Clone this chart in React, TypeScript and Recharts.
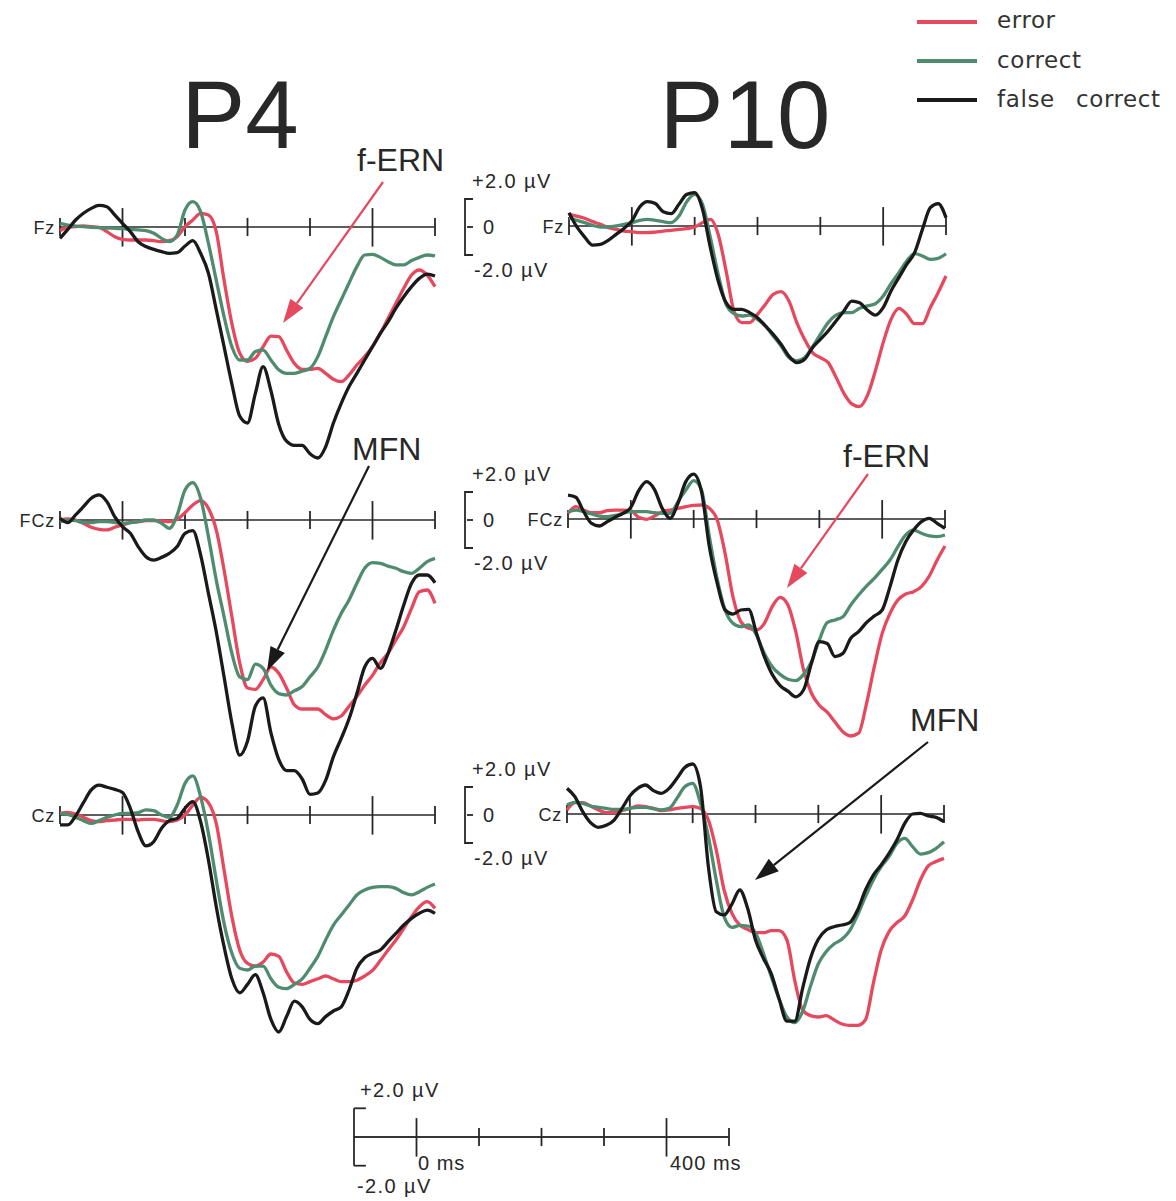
import { LineChart, Line, XAxis, YAxis, ReferenceLine } from "recharts";

// time grid (ms) shared by every waveform
const times = [
  -100, -87.5, -75, -62.5, -50, -37.5, -25, -12.5, 0, 12.5, 25, 37.5, 50, 62.5, 75, 87.5,
  100, 112.5, 125, 137.5, 150, 162.5, 175, 187.5, 200, 212.5, 225, 237.5, 250, 262.5, 275, 287.5,
  300, 312.5, 325, 337.5, 350, 362.5, 375, 387.5, 400, 412.5, 425, 437.5, 450, 462.5, 475, 487.5, 500,
];

// amplitudes in µV
const p4FzError = [-0.26, -0.02, 0.02, 0.07, 0.02, -0.02, -0.33, -0.69, -0.88, -0.93, -0.93, -0.93, -0.98, -1.05, -0.98, -0.69, 0.02, 0.5, 0.98, 0.86, -0.33, -3.8, -6.9, -9.0, -9.6, -9.38, -8.55, -7.79, -7.83, -8.79, -9.74, -10.17, -10.17, -10.1, -10.45, -10.88, -11.05, -10.57, -9.86, -9.26, -8.55, -7.6, -6.52, -5.45, -4.38, -3.43, -3.07, -3.43, -4.26];
const p4FzCorrect = [0.26, 0.14, 0.07, 0.02, -0.02, -0.05, -0.07, -0.1, -0.12, -0.17, -0.21, -0.26, -0.45, -0.81, -1.05, -0.57, 1.21, 1.81, 1.1, -1.17, -3.79, -6.4, -8.55, -9.5, -9.5, -8.9, -8.8, -9.5, -10.2, -10.45, -10.45, -10.3, -10.1, -9.26, -7.83, -6.4, -5.2, -4.0, -2.83, -2.0, -1.95, -2.17, -2.48, -2.71, -2.71, -2.4, -2.17, -2.0, -2.07];
const p4FzFalse = [-0.81, -0.17, 0.5, 0.98, 1.33, 1.55, 1.45, 0.86, 0.26, -0.33, -1.05, -1.4, -1.6, -1.76, -1.88, -1.83, -1.36, -0.98, -1.88, -3.3, -5.9, -8.55, -11.2, -13.5, -14.0, -11.9, -9.98, -11.7, -14.1, -15.3, -15.6, -15.6, -16.2, -16.5, -15.7, -14.0, -12.6, -11.4, -10.45, -9.5, -8.55, -7.6, -6.76, -5.8, -4.98, -4.26, -3.67, -3.36, -3.5];

const p4FczError = [0, 0.07, 0, -0.24, -0.52, -0.67, -0.71, -0.52, -0.36, -0.19, -0.12, -0.05, -0.05, -0.07, -0.12, 0.05, 0.52, 1.07, 1.38, 0.83, -0.71, -3.57, -6.9, -10.2, -12.0, -12.1, -11.4, -10.5, -10.95, -12.0, -13.2, -13.5, -13.5, -13.5, -13.9, -14.2, -14.0, -13.3, -12.6, -11.8, -11.1, -10.2, -9.52, -8.57, -7.62, -6.31, -5.12, -5.0, -5.95];
const p4FczCorrect = [-0.12, 0, -0.05, -0.19, -0.19, -0.12, -0.12, -0.19, -0.24, -0.19, -0.12, 0, 0, -0.24, -0.6, 0.36, 2.14, 2.67, 1.55, -1.19, -4.29, -6.9, -9.52, -11.2, -11.4, -10.3, -10.6, -11.8, -12.4, -12.5, -12.2, -11.9, -11.2, -10.5, -9.29, -7.86, -6.67, -5.71, -4.52, -3.45, -3.05, -3.1, -3.29, -3.45, -3.69, -3.81, -3.45, -2.98, -2.74];
const p4FczFalse = [0.12, -0.19, 0.36, 0.95, 1.55, 1.79, 1.31, 0.24, -0.48, -0.95, -1.9, -2.62, -2.86, -2.67, -2.38, -1.9, -0.95, -0.76, -2.5, -5.24, -7.98, -11.2, -14.5, -16.8, -15.8, -13.3, -12.7, -15.2, -17.1, -17.9, -17.9, -18.5, -19.6, -19.5, -18.6, -16.9, -15.6, -14.2, -12.4, -10.5, -9.88, -10.6, -9.52, -7.86, -6.07, -4.52, -3.93, -3.93, -4.48];

const p4CzError = [0.12, 0.19, 0.07, -0.17, -0.4, -0.48, -0.4, -0.36, -0.31, -0.31, -0.36, -0.31, -0.31, -0.4, -0.48, -0.36, 0, 0.71, 1.26, 0.88, -0.6, -3.93, -7.26, -9.64, -10.6, -10.8, -10.5, -9.93, -10.1, -11.2, -12.0, -12.1, -11.9, -11.7, -11.5, -11.7, -11.9, -11.9, -11.8, -11.5, -11.1, -10.4, -9.64, -8.93, -8.1, -7.26, -6.55, -6.19, -6.67];
const p4CzCorrect = [0.12, 0.05, -0.17, -0.4, -0.6, -0.4, -0.17, 0, 0.12, 0.12, 0.17, 0.36, 0.31, 0, -0.17, 0.71, 2.26, 2.79, 1.31, -1.31, -4.64, -7.74, -9.88, -10.95, -11.07, -10.8, -10.8, -11.7, -12.3, -12.4, -12.1, -11.7, -10.95, -10.1, -8.93, -7.86, -7.14, -6.43, -5.71, -5.36, -5.17, -5.12, -5.12, -5.24, -5.55, -5.71, -5.48, -5.17, -4.93];
const p4CzFalse = [-0.71, -0.71, -0.07, 0.88, 1.79, 2.14, 1.98, 1.83, 1.6, 0.48, -1.19, -2.21, -1.9, -0.95, -0.4, -0.24, 0.48, 0.95, -0.48, -3.21, -6.55, -9.4, -11.7, -12.7, -12.1, -11.4, -12.7, -14.6, -15.5, -14.4, -13.3, -13.7, -14.6, -14.9, -14.4, -14.0, -13.7, -12.5, -10.95, -10.2, -9.88, -9.64, -9.05, -8.45, -7.86, -7.38, -7.02, -6.79, -7.02];

const p10FzError = [0.83, 0.71, 0.55, 0.31, 0.12, -0.12, -0.24, -0.36, -0.4, -0.48, -0.48, -0.43, -0.36, -0.31, -0.24, -0.19, -0.07, 0.24, 0.48, -0.6, -3.21, -6.07, -6.9, -6.9, -6.31, -5.6, -4.88, -4.69, -5.36, -6.9, -8.1, -9.05, -9.4, -9.76, -10.8, -11.95, -12.7, -12.9, -12.1, -10.36, -8.33, -6.67, -5.88, -6.31, -6.98, -6.98, -5.83, -4.76, -3.57];
const p10FzCorrect = [0.6, 0.4, 0.24, 0.05, -0.07, -0.07, 0, 0.12, 0.24, 0.4, 0.48, 0.4, 0.31, 0.24, 0.71, 1.74, 2.26, 1.55, -0.83, -3.45, -5.6, -6.26, -6.43, -6.36, -6.67, -7.14, -7.86, -8.57, -9.4, -9.64, -9.4, -8.64, -7.74, -6.9, -6.36, -6.19, -6.19, -5.88, -5.71, -5.55, -5.0, -4.12, -3.33, -2.5, -1.98, -2.14, -2.38, -2.31, -1.98];
const p10FzFalse = [0.95, -0.07, -0.79, -1.36, -1.31, -1.02, -0.6, -0.17, 0.36, 1.36, 1.74, 1.6, 1.02, 0.88, 1.55, 2.26, 2.38, 1.19, -1.55, -3.93, -5.48, -5.95, -5.95, -6.19, -6.55, -7.14, -7.74, -8.45, -9.29, -9.76, -9.52, -8.69, -8.1, -7.5, -6.79, -6.07, -5.36, -5.48, -6.02, -6.36, -5.83, -4.64, -3.69, -2.74, -1.9, -0.24, 1.31, 1.6, 0.6];

const p10FczError = [0.4, 0.88, 0.64, 0.45, 0.45, 0.6, 0.64, 0.64, 0.6, 0.12, -0.02, 0.21, 0.52, 0.64, 0.76, 0.88, 0.98, 1.0, 0.76, -0.07, -2.45, -5.55, -7.33, -7.81, -7.93, -7.45, -6.26, -5.6, -6.14, -8.05, -10.8, -12.45, -13.3, -13.8, -14.5, -15.2, -15.5, -15.3, -13.2, -10.55, -8.17, -6.74, -5.79, -5.36, -5.19, -4.83, -4.07, -2.93, -1.93];
const p10FczCorrect = [0.52, 0.64, 0.52, 0.36, 0.21, 0.17, 0.26, 0.4, 0.52, 0.52, 0.52, 0.45, 0.4, 0.4, 1.24, 2.07, 2.74, 2.07, -1.26, -4.29, -6.5, -7.45, -7.69, -7.57, -8.29, -9.6, -10.55, -11.1, -11.45, -11.55, -11.1, -10.2, -8.64, -7.4, -7.21, -6.98, -6.14, -5.43, -4.79, -4.24, -3.6, -2.93, -1.98, -1.14, -0.79, -1.02, -1.21, -1.26, -1.14];
const p10FczFalse = [1.71, 1.55, 0.52, -0.31, -0.5, -0.19, 0.12, 0.4, 0.83, 2.02, 2.67, 2.12, 0.76, 0.05, 1.12, 2.67, 3.21, 1.95, -1.98, -4.6, -6.5, -6.79, -6.5, -6.45, -8.17, -9.83, -11.1, -11.9, -12.3, -12.7, -12.2, -10.3, -8.76, -8.9, -9.83, -9.6, -8.52, -8.05, -7.4, -6.93, -6.5, -4.83, -2.93, -1.62, -0.79, -0.19, 0.05, -0.31, -0.67];

const p10CzError = [0.29, 0.81, 0.81, 0.57, 0.29, 0.1, 0.1, 0.24, 0.4, 0.57, 0.52, 0.4, 0.24, 0.29, 0.4, 0.48, 0.52, 0.4, -0.43, -2.57, -5.43, -7.1, -7.93, -8.24, -8.48, -8.48, -8.33, -8.33, -9.0, -11.9, -14.0, -14.4, -14.5, -14.4, -14.7, -15.0, -15.1, -15.1, -14.7, -12.1, -9.71, -8.4, -7.76, -7.29, -6.14, -4.71, -3.71, -3.4, -3.17];
const p10CzCorrect = [0.64, 0.83, 0.76, 0.57, 0.48, 0.4, 0.33, 0.33, 0.4, 0.48, 0.48, 0.38, 0.29, 0.4, 1.12, 1.95, 2.19, 0.76, -1.62, -4.71, -7.33, -8.1, -7.95, -8.0, -8.48, -9.95, -11.6, -13.2, -14.5, -14.9, -14.1, -12.3, -10.7, -9.83, -9.29, -8.95, -8.33, -7.21, -5.9, -4.71, -3.76, -3.05, -2.1, -1.74, -2.33, -2.86, -2.76, -2.45, -1.98];
const p10CzFalse = [1.83, 1.24, 0.17, -0.62, -0.95, -0.81, -0.43, 0.4, 1.29, 1.83, 2.07, 1.67, 1.48, 1.83, 2.55, 3.33, 3.57, 1.95, -3.76, -6.98, -7.21, -6.43, -5.43, -6.74, -9.0, -10.3, -11.4, -13.2, -14.8, -14.8, -12.45, -10.3, -8.95, -8.29, -8.05, -7.93, -7.76, -6.86, -5.43, -4.36, -3.64, -2.81, -1.86, -0.67, 0, 0.05, -0.14, -0.24, -0.55];

const tallTicks = [0, 400];
const shortTicks = [100, 200, 300, 500];

const FONT = "'Liberation Sans', Arial, sans-serif";
const INK = "#282828";
const RED = "#e6485e";
const GREEN = "#4f8c6f";
const BLACK = "#1a1a1a";

const PX_PER_UV = 14;
const UV_TOP = 5;
const UV_BOTTOM = -21;
const PAD = 6;

type Panel = {
  label: string;
  left: number;
  width: number;
  axisY: number;
  error: number[];
  correct: number[];
  falseCorrect: number[];
};

const panels: Panel[] = [
  { label: "Fz", left: 60, width: 375, axisY: 227, error: p4FzError, correct: p4FzCorrect, falseCorrect: p4FzFalse },
  { label: "FCz", left: 60, width: 375, axisY: 520, error: p4FczError, correct: p4FczCorrect, falseCorrect: p4FczFalse },
  { label: "Cz", left: 60, width: 375, axisY: 815, error: p4CzError, correct: p4CzCorrect, falseCorrect: p4CzFalse },
  { label: "Fz", left: 569, width: 377, axisY: 226, error: p10FzError, correct: p10FzCorrect, falseCorrect: p10FzFalse },
  { label: "FCz", left: 568, width: 377, axisY: 519, error: p10FczError, correct: p10FczCorrect, falseCorrect: p10FczFalse },
  { label: "Cz", left: 567, width: 377, axisY: 814, error: p10CzError, correct: p10CzCorrect, falseCorrect: p10CzFalse },
];

function axisMarks(withStartTick: boolean) {
  const marks = [
    <ReferenceLine key="zero" y={0} stroke={INK} strokeWidth={1.6} ifOverflow="visible" />,
    ...tallTicks.map((t) => (
      <ReferenceLine key={"tall" + t} segment={[{ x: t, y: -1.4 }, { x: t, y: 1.35 }]} stroke={INK} strokeWidth={1.8} ifOverflow="visible" />
    )),
    ...shortTicks.map((t) => (
      <ReferenceLine key={"short" + t} segment={[{ x: t, y: -0.65 }, { x: t, y: 0.65 }]} stroke={INK} strokeWidth={1.8} ifOverflow="visible" />
    )),
  ];
  if (withStartTick) {
    marks.push(
      <ReferenceLine key="start" segment={[{ x: -100, y: -0.65 }, { x: -100, y: 0.65 }]} stroke={INK} strokeWidth={1.8} ifOverflow="visible" />
    );
  }
  return marks;
}

function ErpPanel({ p }: { p: Panel }) {
  const data = times.map((t, i) => ({
    t,
    error: p.error[i],
    correct: p.correct[i],
    falseCorrect: p.falseCorrect[i],
  }));
  const height = (UV_TOP - UV_BOTTOM) * PX_PER_UV;
  return (
    <div style={{ position: "absolute", left: p.left - PAD, top: p.axisY - UV_TOP * PX_PER_UV - PAD }}>
      <LineChart width={p.width + PAD * 2} height={height + PAD * 2} data={data} margin={{ top: PAD, right: PAD, bottom: PAD, left: PAD }}>
        <XAxis type="number" dataKey="t" domain={[-100, 500]} hide />
        <YAxis type="number" domain={[UV_BOTTOM, UV_TOP]} hide />
        {axisMarks(true)}
        <Line type="monotone" dataKey="error" stroke={RED} strokeWidth={3.3} dot={false} isAnimationActive={false} />
        <Line type="monotone" dataKey="correct" stroke={GREEN} strokeWidth={3.3} dot={false} isAnimationActive={false} />
        <Line type="monotone" dataKey="falseCorrect" stroke={BLACK} strokeWidth={3.3} dot={false} isAnimationActive={false} />
      </LineChart>
    </div>
  );
}

// calibration bar: a flat 0 µV baseline drawn on the same time scale
function ScaleBar() {
  const axisY = 1137;
  const data = times.map((t) => ({ t, base: 0 }));
  return (
    <div style={{ position: "absolute", left: 354 - PAD, top: axisY - 2.5 * PX_PER_UV - PAD }}>
      <LineChart width={375 + PAD * 2} height={5 * PX_PER_UV + PAD * 2} data={data} margin={{ top: PAD, right: PAD, bottom: PAD, left: PAD }}>
        <XAxis type="number" dataKey="t" domain={[-100, 500]} hide />
        <YAxis type="number" domain={[-2.5, 2.5]} hide />
        <Line type="linear" dataKey="base" stroke={INK} strokeWidth={1.6} dot={false} isAnimationActive={false} />
        {axisMarks(false)}
        <ReferenceLine segment={[{ x: -100, y: -2.05 }, { x: -100, y: 2.05 }]} stroke={INK} strokeWidth={1.8} ifOverflow="visible" />
        <ReferenceLine segment={[{ x: -100, y: 2.05 }, { x: -81, y: 2.05 }]} stroke={INK} strokeWidth={1.8} ifOverflow="visible" />
        <ReferenceLine segment={[{ x: -100, y: -2.05 }, { x: -81, y: -2.05 }]} stroke={INK} strokeWidth={1.8} ifOverflow="visible" />
      </LineChart>
    </div>
  );
}

function Arrow({ x1, y1, x2, y2, color }: { x1: number; y1: number; x2: number; y2: number; color: string }) {
  const dx = x2 - x1;
  const dy = y2 - y1;
  const len = Math.hypot(dx, dy);
  const ux = dx / len;
  const uy = dy / len;
  const head = 24;
  const half = 8;
  const bx = x2 - ux * head;
  const by = y2 - uy * head;
  const pts = `${x2},${y2} ${bx - uy * half},${by + ux * half} ${bx + uy * half},${by - ux * half}`;
  return (
    <g>
      <line x1={x1} y1={y1} x2={bx} y2={by} stroke={color} strokeWidth={2.2} />
      <polygon points={pts} fill={color} />
    </g>
  );
}

function UvBracket({ axisY }: { axisY: number }) {
  return (
    <g>
      <path d={`M473,${axisY - 28} H465 V${axisY + 28} H473`} fill="none" stroke={INK} strokeWidth={1.8} />
      <line x1={467} y1={axisY} x2={473} y2={axisY} stroke={INK} strokeWidth={1.8} />
      <text x={472} y={axisY - 39} fontSize={20} letterSpacing={1.4}>+2.0 µV</text>
      <text x={483} y={axisY + 7} fontSize={20}>0</text>
      <text x={474} y={axisY + 50} fontSize={20} letterSpacing={1.4}>-2.0 µV</text>
    </g>
  );
}

export default function App() {
  return (
    <div style={{ position: "absolute", left: 0, top: 0, width: 1176, height: 1201, overflow: "hidden", background: "#fff" }}>
      {panels.map((p, i) => (
        <ErpPanel key={i} p={p} />
      ))}
      <ScaleBar />
      <svg width={1176} height={1201} style={{ position: "absolute", left: 0, top: 0, pointerEvents: "none" }} fontFamily={FONT} fill={INK}>
        <text x={240} y={148} fontSize={96} textAnchor="middle">P4</text>
        <text x={745} y={148} fontSize={96} textAnchor="middle">P10</text>

        <g fontFamily="'DejaVu Sans', sans-serif" fontSize={23} fill="#333">
          <line x1={917} y1={22} x2={977} y2={22} stroke={RED} strokeWidth={4} />
          <line x1={917} y1={61} x2={977} y2={61} stroke={GREEN} strokeWidth={4} />
          <line x1={917} y1={100} x2={977} y2={100} stroke={BLACK} strokeWidth={4} />
          <text x={997} y={28} letterSpacing={0.6}>error</text>
          <text x={997} y={68} letterSpacing={0.6}>correct</text>
          <text x={997} y={107} letterSpacing={0.6}>
            false<tspan x={1076}>correct</tspan>
          </text>
        </g>

        {panels.map((p, i) => (
          <text key={"lab" + i} x={p.left - 5} y={p.axisY + 7} fontSize={18} textAnchor="end" letterSpacing={0.8}>
            {p.label}
          </text>
        ))}

        <UvBracket axisY={227} />
        <UvBracket axisY={520} />
        <UvBracket axisY={815} />

        <text x={357} y={171} fontSize={32}>f-ERN</text>
        <Arrow x1={383} y1={182} x2={283} y2={323} color={RED} />
        <text x={352} y={460} fontSize={32}>MFN</text>
        <Arrow x1={369} y1={466} x2={267} y2={671} color={BLACK} />
        <text x={843} y={467} fontSize={32}>f-ERN</text>
        <Arrow x1={868} y1={474} x2={787} y2={588} color={RED} />
        <text x={910} y={731} fontSize={32}>MFN</text>
        <Arrow x1={928} y1={742} x2={755} y2={880} color={BLACK} />

        <text x={360} y={1097} fontSize={20} letterSpacing={1.4}>+2.0 µV</text>
        <text x={418} y={1170} fontSize={20} letterSpacing={1}>0 ms</text>
        <text x={670} y={1170} fontSize={20} letterSpacing={1}>400 ms</text>
        <text x={357} y={1193} fontSize={20} letterSpacing={1.4}>-2.0 µV</text>
      </svg>
    </div>
  );
}
